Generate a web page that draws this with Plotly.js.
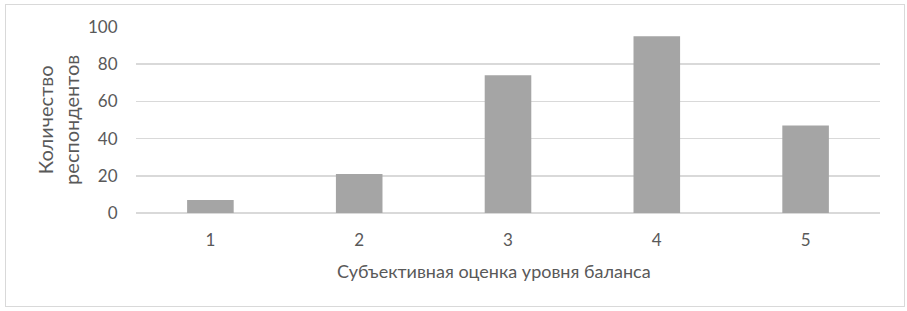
<!DOCTYPE html>
<html>
<head>
<meta charset="utf-8">
<script src="https://cdn.plot.ly/plotly-3.0.1.min.js"></script>
<style>
html,body{margin:0;padding:0;background:#fff;}
#wrap{position:relative;width:907px;height:311px;}
#chart{position:absolute;left:0;top:0;width:907px;height:311px;}
#frame{position:absolute;left:5px;top:4px;width:898px;height:301px;border:1px solid #d9d9d9;pointer-events:none;}
</style>
</head>
<body>
<div id="wrap"><div id="chart"></div><div id="frame"></div></div>
<script>
const categories = ["1", "2", "3", "4", "5"];
const respondents = [7, 21, 74, 95, 47];
const yTicks = [0, 20, 40, 60, 80, 100];
const xTitle = "Субъективная оценка уровня баланса";
const yTitle = "Количество<br>респондентов";

const font = "Lato, Open Sans, sans-serif";
const col = "#595959";
Plotly.newPlot("chart", [{
  type: "bar",
  x: categories,
  y: respondents,
  marker: {color: "#a5a5a5"},
  hoverinfo: "x+y"
}], {
  width: 907, height: 311,
  margin: {l: 136, r: 27, t: 27, b: 98},
  paper_bgcolor: "rgba(0,0,0,0)",
  plot_bgcolor: "#fff",
  bargap: 0.687,
  showlegend: false,
  font: {family: font, color: col, size: 17},
  xaxis: {
    type: "category",
    showgrid: false, zeroline: false,
    showline: false,
    ticks: "outside", ticklen: 12, tickcolor: "rgba(0,0,0,0)",
    tickfont: {size: 17, color: col, family: font}
  },
  yaxis: {
    range: [0, 100],
    tickvals: yTicks,
    showgrid: true, gridcolor: "#d9d9d9", gridwidth: 1.5,
    zeroline: true, zerolinecolor: "#d9d9d9", zerolinewidth: 1.5,
    showline: false,
    ticks: "outside", ticklen: 14, tickcolor: "rgba(0,0,0,0)",
    tickfont: {size: 17, color: col, family: font}
  },
  annotations: [
    {text: xTitle, xref: "paper", yref: "paper", x: 0.481, y: -0.312,
     xanchor: "center", yanchor: "middle", showarrow: false,
     font: {size: 18, color: col, family: font}},
    {text: yTitle, xref: "paper", yref: "paper", x: -0.105, y: 0.5,
     xanchor: "center", yanchor: "middle", showarrow: false, textangle: -90,
     font: {size: 20, color: col, family: font}}
  ]
}, {displayModeBar: false, staticPlot: true});
</script>
</body>
</html>
